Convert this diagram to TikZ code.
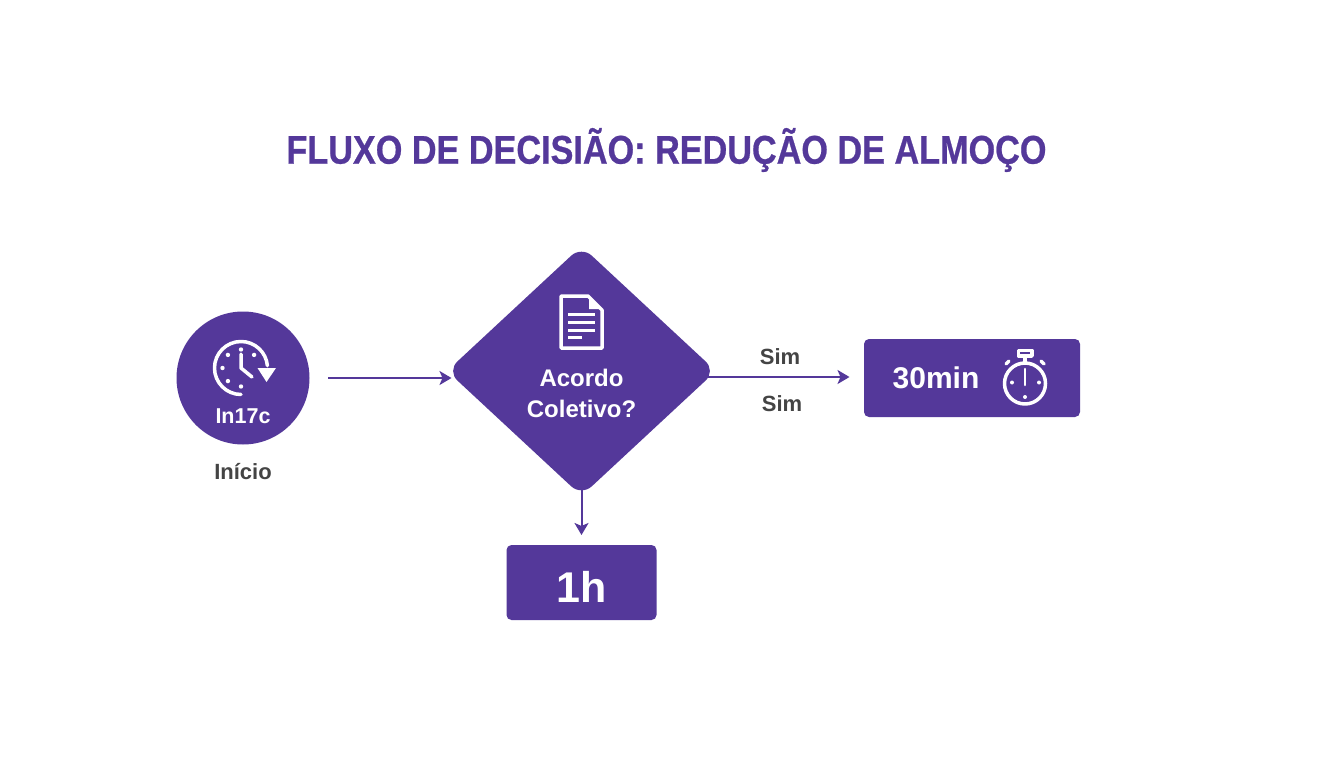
\documentclass[tikz,border=0pt]{standalone}
\usepackage{fontspec}
\setmainfont{Liberation Sans}
\newfontfamily\titlefont[FakeStretch=0.855,FakeBold=0.6]{Liberation Sans}
\usetikzlibrary{arrows.meta, shapes.geometric}
\definecolor{roxo}{HTML}{54389A}
\definecolor{cinza}{HTML}{444444}

\begin{document}
\begin{tikzpicture}[x = 1pt, y = -1pt,
                node distance = 100pt, % overridden per node
                semithick % line style
            ]

            \tikzstyle{bloco}=[fill = roxo, text = white, font = \bfseries]
            \tikzstyle{caixa}=[bloco, rectangle, rounded corners = 5pt, inner sep = 0pt]
            \tikzstyle{rotulo}=[text = cinza, font = \fontsize{22}{26}\selectfont\bfseries, inner sep = 0pt]
            \tikzstyle{textobranco}=[text = white, inner sep = 0pt]
            \tikzstyle{seta}=[-{Stealth[length = 12pt, width = 14pt, inset = 3pt]}, roxo, line width = 2pt]
            \tikzstyle{icone}=[white, line width = 3.5pt, line cap = round, line join = round]

            \useasboundingbox (0,0) rectangle (1344,768);
            \fill[white] (0,0) rectangle (1344,768);

            \node (titulo) [text = roxo, inner sep = 0pt] at (666.5,150)
            {\titlefont\fontsize{40}{48}\selectfont\bfseries FLUXO DE DECISIÃO: REDUÇÃO DE ALMOÇO};

            \node (inicio) [bloco, circle, minimum size = 133pt, inner sep = 0pt] at (243,378) {};
            \node (dec) [bloco, diamond, rounded corners = 14pt, minimum width = 269pt,
            minimum height = 250pt, inner sep = 0pt, right of=inicio, node distance = 338.5pt,
            yshift = 7pt] {};
            \node (trinta) [caixa, minimum width = 216pt, minimum height = 78pt,
            right of=dec, node distance = 390.5pt, yshift = -7pt] {};
            \node (umah) [caixa, minimum width = 150pt, minimum height = 75pt,
            below of=dec, node distance = 211.5pt] {};

            \node (txtinicio) [textobranco, font = \fontsize{21.5}{25}\selectfont\bfseries,
            below of=inicio, node distance = 38pt] {In17c};
            \node (legenda) [rotulo, below of=inicio, node distance = 94pt] {Início};
            \node (txtdec) [textobranco, align = center,
            font = \fontsize{24}{31}\selectfont\bfseries, below of=dec, node distance = 22.5pt] {Acordo\\Coletivo?};
            \node (txttrinta) [textobranco, font = \fontsize{30}{36}\selectfont\bfseries]
            at (936,378) {30min};
            \node (txtumah) [textobranco, font = \fontsize{43}{50}\selectfont\bfseries,
            below of=umah, node distance = 4pt] {1h};
            \node (simcima) [rotulo] at (780,357) {Sim};
            \node (simbaixo) [rotulo] at (782,404) {Sim};

            \coordinate (partida) at (328,378);
            \coordinate (entrada) at (451.5,378);
            \coordinate (saida) at (708,377);
            \coordinate (fim) at (849.5,377);
            \coordinate (baixo) at (581.5,489);
            \coordinate (fimbaixo) at (581.5,535);

            \draw[seta] (partida) -- (entrada);
            \draw[seta] (saida) -- (fim);
            \draw[seta] (baixo) -- (fimbaixo);

            % relogio
            \draw[icone] (241,394.5) arc (90:355:26.5);
            \fill[white] (257.5,368) -- (276,368) -- (266.5,382) -- cycle;
            \draw[icone] (241,354) -- (241,368) -- (252,377);
            \foreach \a in {90,135,180,225,270,315}
                \fill[white] (241,368) ++(\a:18.5) circle (2.2);

            % documento
            \draw[icone] (588,296) -- (561,296) -- (561,348) -- (602,348) -- (602,310) -- cycle;
            \fill[white] (589,298) -- (600,309) -- (589,309) -- cycle;
            \foreach \y in {314.5,322.5,330}
                \draw[icone, line cap = butt, line width = 3pt] (568,\y) -- (595,\y);
            \draw[icone, line cap = butt, line width = 3pt] (568,337.5) -- (582,337.5);

            % cronometro
            \draw[icone] (1025,383.5) circle (20.5);
            \draw[icone] (1018.5,350.5) rectangle (1032,356);
            \draw[icone] (1025,356) -- (1025,362);
            \draw[icone] (1009,361) -- (1006,364);
            \draw[icone] (1041,361) -- (1044,364);
            \draw[icone, line width = 2.6pt] (1025,369) -- (1025,385);
            \foreach \p/\q in {1012/382.5, 1039/382.5, 1025/397}
                \fill[white] (\p,\q) circle (2);
\end{tikzpicture}
\end{document}
